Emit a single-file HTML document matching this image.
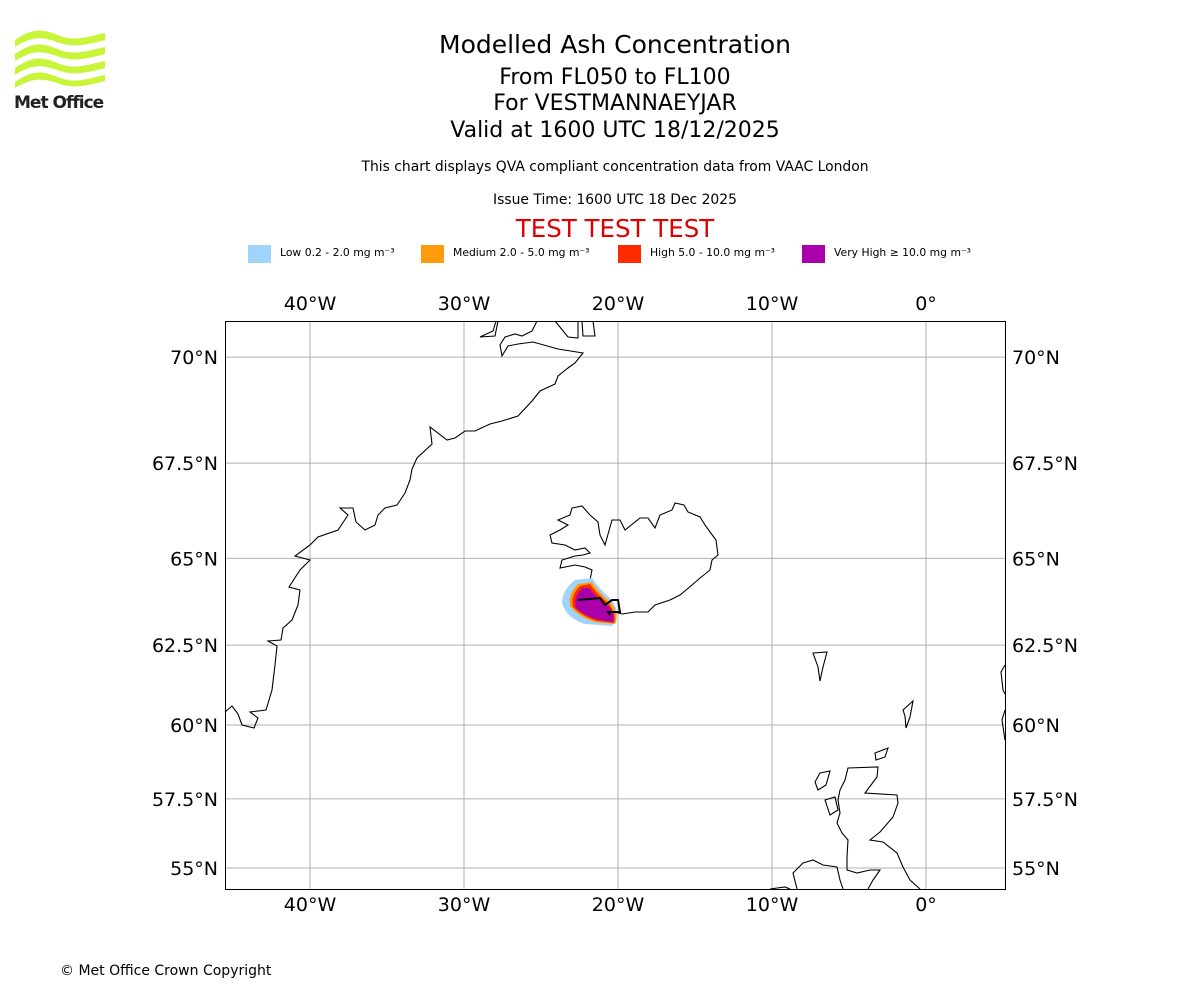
<!DOCTYPE html>
<html><head><meta charset="utf-8"><style>
body{margin:0;background:#fff;font-family:"DejaVu Sans","Liberation Sans",sans-serif;}
svg text{font-family:"DejaVu Sans","Liberation Sans",sans-serif;}
</style></head><body>
<svg id="chart" width="1200" height="1000" xmlns="http://www.w3.org/2000/svg">
<g fill="#c8f53a">
<path d="M15,40 C35,26 45,30 60,36 C75,42 90,36 105,33 L105,40 C90,44 75,48 60,43 C45,38 35,34 15,47 Z"/>
<path d="M15,54 C35,40 45,44 60,50 C75,56 90,50 105,47 L105,54 C90,58 75,62 60,57 C45,52 35,48 15,61 Z"/>
<path d="M15,68 C35,54 45,58 60,64 C75,70 90,64 105,61 L105,68 C90,72 75,76 60,71 C45,66 35,62 15,75 Z"/>
<path d="M15,82 C35,68 45,72 60,78 C75,84 90,78 105,75 L105,81 C90,85 75,89 60,84 C45,79 35,76 15,88 Z"/>
<text x="14" y="108" font-size="17" font-weight="bold" fill="#222" letter-spacing="-1">Met Office</text>
</g>
<text x="615" y="53" font-size="25" text-anchor="middle">Modelled Ash Concentration</text>
<text x="615" y="84" font-size="22" text-anchor="middle">From FL050 to FL100</text>
<text x="615" y="110" font-size="22" text-anchor="middle">For VESTMANNAEYJAR</text>
<text x="615" y="137" font-size="22" text-anchor="middle">Valid at 1600 UTC 18/12/2025</text>
<text x="615" y="171" font-size="13.9" text-anchor="middle">This chart displays QVA compliant concentration data from VAAC London</text>
<text x="615" y="204" font-size="13.9" text-anchor="middle">Issue Time: 1600 UTC 18 Dec 2025</text>
<text x="615" y="237" font-size="24.5" fill="#e00000" text-anchor="middle">TEST TEST TEST</text>
<g id="legend"></g>
<g id="grid"></g>
<g id="coast" fill="none" stroke="#000" stroke-width="1.1">
<polyline points="496,321 493,331 480,337 495,336 498,321"/>
<polyline points="537,321 532,331 522,336 515,334 505,337 500,345 502,356 508,346 518,344 533,342 558,349 583,353 575,363 568,368 558,376 555,384 540,391 532,401 518,416 502,421 490,424 475,431 465,431 455,438 447,440 430,427 432,444 417,458 412,469 410,480 405,493 397,505 385,508 378,515 375,525 365,530 356,522 353,508 340,508 348,515 338,530 318,537 310,545 295,556 310,560 300,570 289,587 300,590 298,605 292,620 283,628 281,640 268,641 277,646 275,665 272,690 266,710 250,712 258,718 254,728 242,725 238,714 232,706 225,712"/>
<polyline points="555,321 568,337 578,338 578,321"/>
<polyline points="582,321 583,336 595,336 593,321"/>
<polygon points="572,508 582,506 590,515 598,522 600,535 605,545 612,520 620,520 625,530 640,518 648,518 655,528 660,515 672,510 675,503 684,505 688,512 700,517 705,525 710,532 716,540 718,555 712,560 710,570 700,578 692,585 680,595 670,600 655,605 648,612 635,612 622,614 615,612 600,610 590,605 578,600 575,590 585,585 590,580 592,570 585,567 575,565 560,568 562,560 575,556 583,555 590,553 585,548 575,550 565,545 552,543 550,535 560,530 568,525 558,520 570,515"/>
<polygon points="813,653 827,652 823,667 820,681 818,667"/>
<polygon points="903,710 913,701 910,717 906,728 905,716"/>
<polygon points="875,753 888,748 885,757 876,760"/>
<polyline points="868,889 873,880 880,870 870,870 857,873 847,870 847,857 848,840 842,833 837,823 840,813 838,800 840,790 845,780 848,768 878,767 877,777 865,793 897,795 898,803 893,817 880,832 870,840 883,842 897,853 903,867 910,880 920,889"/>
<polygon points="820,773 830,771 826,785 818,790 815,782"/>
<polygon points="825,800 835,797 838,810 830,815"/>
<polyline points="797,889 793,873 803,863 813,860 823,865 837,867 840,880 843,889"/>
<polyline points="770,889 785,887 790,889"/>
<polyline points="1005,665 1001,672 1003,690 1005,694"/>
<polyline points="1005,710 1002,720 1005,740"/>
</g>
<g>
<path d="M575,580 Q562,590 562,603 Q566,618 585,624 L612,626 Q622,615 612,600 Q600,590 592,578 Z" fill="#a0d4fa"/>
<path d="M578,584 Q568,594 570,606 Q580,618 595,622 L615,624 Q620,614 610,602 Q598,592 592,582 Z" fill="#ff9a0b"/>
<path d="M580,586 Q570,596 573,607 Q583,617 597,621 L614,623 Q617,614 608,603 Q597,594 590,584 Z" fill="#ff2a00"/>
<path d="M582,588 Q573,598 576,608 Q586,617 600,620 L613,622 Q616,613 606,604 Q595,596 589,588 Z" fill="#aa00aa"/>
<polyline points="578,600 600,598 605,605 612,600 618,600 620,612 608,612 610,615" fill="none" stroke="#000" stroke-width="2"/>
</g>
<rect x="225.5" y="321.5" width="780" height="568" fill="none" stroke="#000" stroke-width="1"/>
<text x="60" y="975" font-size="14">© Met Office Crown Copyright</text>
</svg>
<script>
const lonTicks=[-40,-30,-20,-10,0];
const lonLabels=["40°W","30°W","20°W","10°W","0°"];
const latTicks=[70,67.5,65,62.5,60,57.5,55];
const latLabels=["70°N","67.5°N","65°N","62.5°N","60°N","57.5°N","55°N"];
const legendLabels=["Low 0.2 - 2.0 mg m⁻³","Medium 2.0 - 5.0 mg m⁻³","High 5.0 - 10.0 mg m⁻³","Very High  ≥  10.0 mg m⁻³"];
const legendColors=["#a0d4fa","#ff9a0b","#ff2a00","#aa00aa"];
const legendX=[248,421,618,802];
const NS="http://www.w3.org/2000/svg";
const L=225,R=1005,T=321,B=889;
function xOf(lon){return 926+lon*15.4;}
function merc(lat){return Math.log(Math.tan(Math.PI/4+lat*Math.PI/360));}
function yOf(lat){return 868-(merc(lat)-merc(55))*879;}
function mk(tag,attrs,parent){const e=document.createElementNS(NS,tag);for(const k in attrs)e.setAttribute(k,attrs[k]);parent.appendChild(e);return e;}
const g=document.getElementById('grid');
lonTicks.forEach((lon,i)=>{const x=xOf(lon);
 const ln=mk('line',{x1:x,x2:x,y1:T,y2:B,stroke:'#b0b0b0','stroke-width':1},g);
 
 
 [310,911].forEach(y=>{const t=mk('text',{x:x,y:y,'font-size':19,'text-anchor':'middle'},g);t.textContent=lonLabels[i];
 
 });
});
latTicks.forEach((lat,i)=>{const y=yOf(lat);
 const ln=mk('line',{x1:L,x2:R,y1:y,y2:y,stroke:'#b0b0b0','stroke-width':1},g);
 
 
 const t1=mk('text',{x:218,y:y+7,'font-size':19,'text-anchor':'end'},g);t1.textContent=latLabels[i];
 
 
 const t2=mk('text',{x:1012,y:y+7,'font-size':19},g);t2.textContent=latLabels[i];
 
 
});
const lg=document.getElementById('legend');
legendLabels.forEach((lab,i)=>{
 const r=mk('rect',{x:legendX[i],y:245,width:23,height:18,fill:legendColors[i]},lg);
 
 
 const t=mk('text',{x:legendX[i]+32,y:256,'font-size':10.8},lg);t.textContent=lab;
 
 
});
</script>
</body></html>
